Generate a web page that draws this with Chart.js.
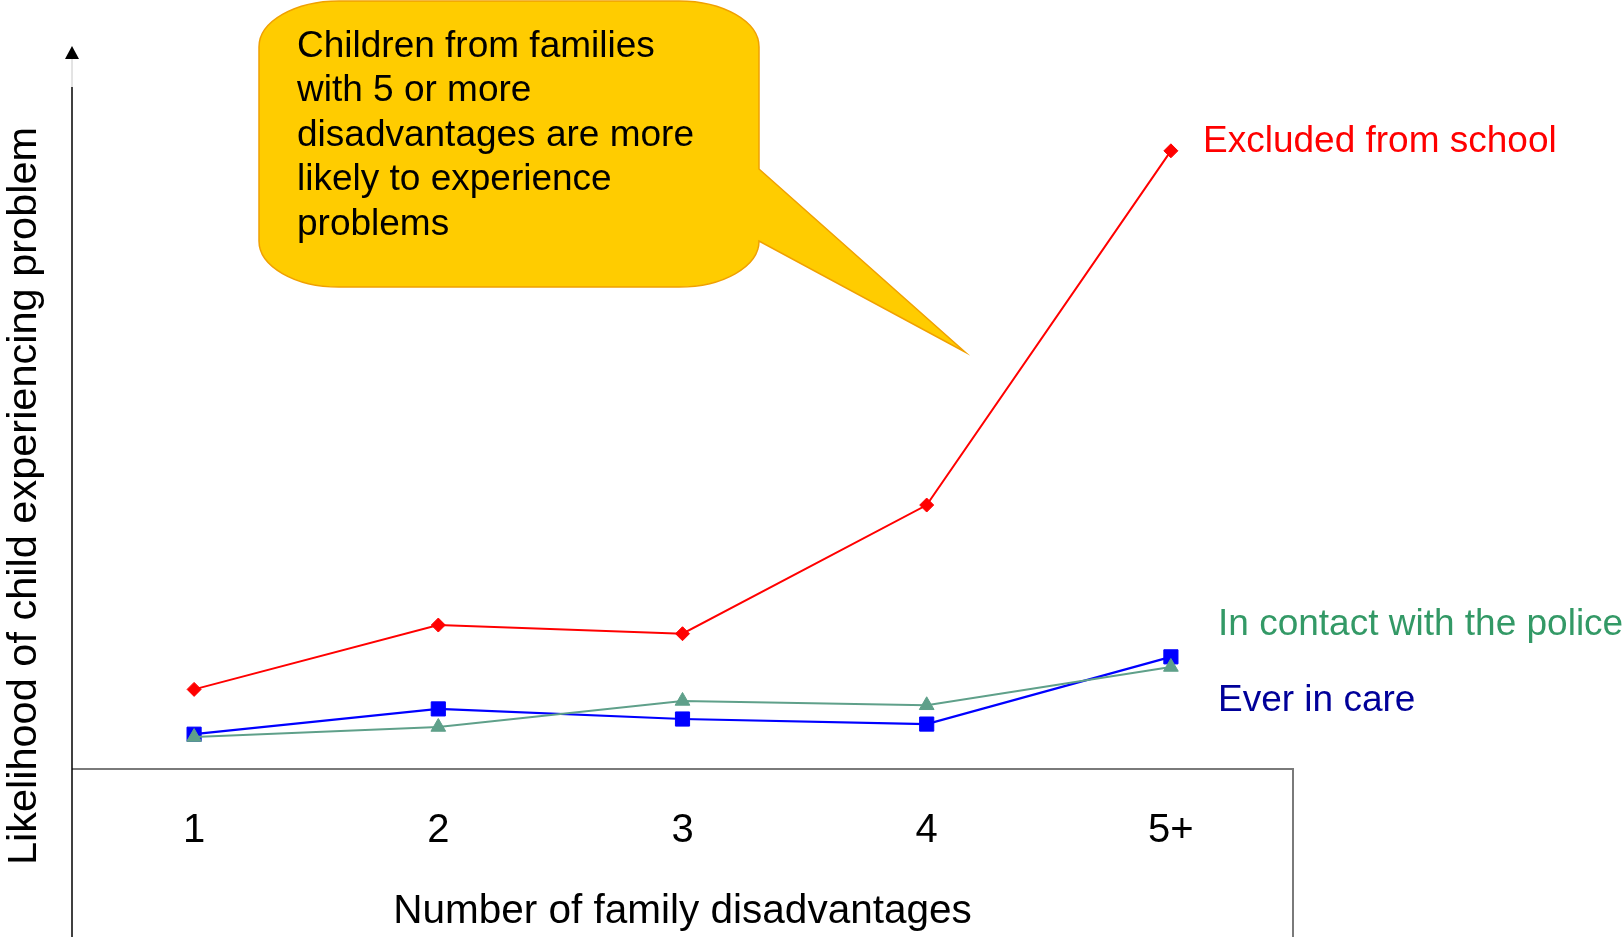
<!DOCTYPE html>
<html>
<head>
<meta charset="utf-8">
<script src="https://cdn.jsdelivr.net/npm/chart.js@4"></script>
<style>
  html, body { margin: 0; padding: 0; background: #fff; }
  #wrap { width: 1623px; height: 937px; position: relative; }
</style>
</head>
<body>
<div id="wrap"><canvas id="chart"></canvas></div>
<script>
// values (no y ticks, so arbitrary 0-100 units)
const categories = ['1', '2', '3', '4', '5+'];
const excludedFromSchool = [11.0, 19.9, 18.7, 36.5, 85.5];
const contactWithPolice = [4.4, 5.8, 9.4, 8.8, 14.1];
const everInCare = [4.8, 8.3, 6.9, 6.2, 15.5];

const xTitle = 'Number of family disadvantages';
const yTitle = 'Likelihood of child experiencing problem';
const calloutLines = [
    'Children from families',
    'with 5 or more',
    'disadvantages are more',
    'likely to experience',
    'problems'
];

const FONT = "'Liberation Sans', Arial, sans-serif";
Chart.defaults.font.family = FONT;

// frame, arrow, callout and series labels
const decorations = {
    id: 'decorations',
    beforeDatasetsDraw(chart) {
        const { ctx, chartArea: { left, right, top, bottom } } = chart;
        const H = chart.height;
        ctx.save();
        // x axis line + right border of lower box
        ctx.strokeStyle = '#7a7a7a';
        ctx.lineWidth = 2;
        ctx.beginPath();
        ctx.moveTo(left, bottom);
        ctx.lineTo(right, bottom);
        ctx.lineTo(right, H);
        ctx.stroke();
        // y axis line
        ctx.strokeStyle = '#000';
        ctx.lineWidth = 1.5;
        ctx.beginPath();
        ctx.moveTo(left, top + 41);
        ctx.lineTo(left, H);
        ctx.stroke();
        ctx.strokeStyle = '#c8c8c8';
        ctx.lineWidth = 1;
        ctx.beginPath();
        ctx.moveTo(left, top + 13);
        ctx.lineTo(left, top + 41);
        ctx.stroke();
        // arrow head
        ctx.fillStyle = '#000';
        ctx.beginPath();
        ctx.moveTo(left, top);
        ctx.lineTo(left + 7, top + 13);
        ctx.lineTo(left - 7, top + 13);
        ctx.closePath();
        ctx.fill();
        ctx.restore();
    },
    afterDraw(chart) {
        const { ctx } = chart;
        ctx.save();

        // y title
        ctx.save();
        ctx.translate(25, 496);
        ctx.rotate(-Math.PI / 2);
        ctx.font = '41.5px ' + FONT;
        ctx.fillStyle = '#000';
        ctx.textAlign = 'center';
        ctx.textBaseline = 'middle';
        ctx.fillText(yTitle, 0, 0);
        ctx.restore();

        // speech bubble
        const L = 259, T = 1, R = 759, B = 287, rx = 80, ry = 46;
        const k = 0.5523;
        ctx.beginPath();
        ctx.moveTo(L + rx, T);
        ctx.lineTo(R - rx, T);
        ctx.bezierCurveTo(R - rx + rx * k, T, R, T + ry - ry * k, R, T + ry);
        ctx.lineTo(R, 169);
        ctx.lineTo(965, 352);
        ctx.lineTo(R, 241);
        ctx.lineTo(R, B - ry);
        ctx.bezierCurveTo(R, B - ry + ry * k, R - rx + rx * k, B, R - rx, B);
        ctx.lineTo(L + rx, B);
        ctx.bezierCurveTo(L + rx - rx * k, B, L, B - ry + ry * k, L, B - ry);
        ctx.lineTo(L, T + ry);
        ctx.bezierCurveTo(L, T + ry - ry * k, L + rx - rx * k, T, L + rx, T);
        ctx.closePath();
        ctx.fillStyle = '#FFCC00';
        ctx.fill();
        ctx.strokeStyle = '#F0A000';
        ctx.lineWidth = 1.5;
        ctx.stroke();

        ctx.fillStyle = '#000';
        ctx.font = '37px ' + FONT;
        ctx.textAlign = 'left';
        ctx.textBaseline = 'alphabetic';
        calloutLines.forEach((line, i) => {
            ctx.fillText(line, 297, 56.5 + i * 44.5);
        });

        // series labels
        ctx.font = '37px ' + FONT;
        ctx.fillStyle = '#FF0000';
        ctx.fillText('Excluded from school', 1203, 152);
        ctx.fillStyle = '#339966';
        ctx.fillText('In contact with the police', 1218, 635);
        ctx.fillStyle = '#000099';
        ctx.fillText('Ever in care', 1218, 711);
        ctx.restore();
    }
};

new Chart(document.getElementById('chart').getContext('2d'), {
    type: 'line',
    data: {
        labels: categories,
        datasets: [
            {
                label: 'Excluded from school',
                data: excludedFromSchool,
                borderColor: '#FF0000',
                backgroundColor: '#FF0000',
                borderWidth: 2,
                pointStyle: 'rectRot',
                pointRadius: 7,
                pointBorderWidth: 1
            },
            {
                label: 'In contact with the police',
                data: contactWithPolice,
                borderColor: '#5FA08A',
                backgroundColor: '#5FA08A',
                borderWidth: 2,
                pointStyle: 'triangle',
                pointRadius: 8.5,
                pointBorderWidth: 1
            },
            {
                label: 'Ever in care',
                data: everInCare,
                borderColor: '#0000FF',
                backgroundColor: '#0000FF',
                borderWidth: 2.2,
                pointStyle: 'rect',
                pointRadius: 10,
                pointBorderWidth: 1
            }
        ]
    },
    options: {
        responsive: true,
        maintainAspectRatio: false,
        animation: false,
        layout: {
            padding: { left: 72, right: 330, top: 46, bottom: 0 }
        },
        plugins: {
            legend: { display: false },
            tooltip: { enabled: false }
        },
        scales: {
            x: {
                offset: true,
                grid: { display: false, drawTicks: false },
                border: { display: false },
                ticks: {
                    color: '#000',
                    font: { size: 40 },
                    padding: 38.5,
                    maxRotation: 0
                },
                title: {
                    display: true,
                    text: xTitle,
                    color: '#000',
                    font: { size: 40.5 },
                    padding: { top: -6.5, bottom: 1 }
                }
            },
            y: {
                display: false,
                min: 0,
                max: 100
            }
        }
    },
    plugins: [decorations]
});
</script>
</body>
</html>
